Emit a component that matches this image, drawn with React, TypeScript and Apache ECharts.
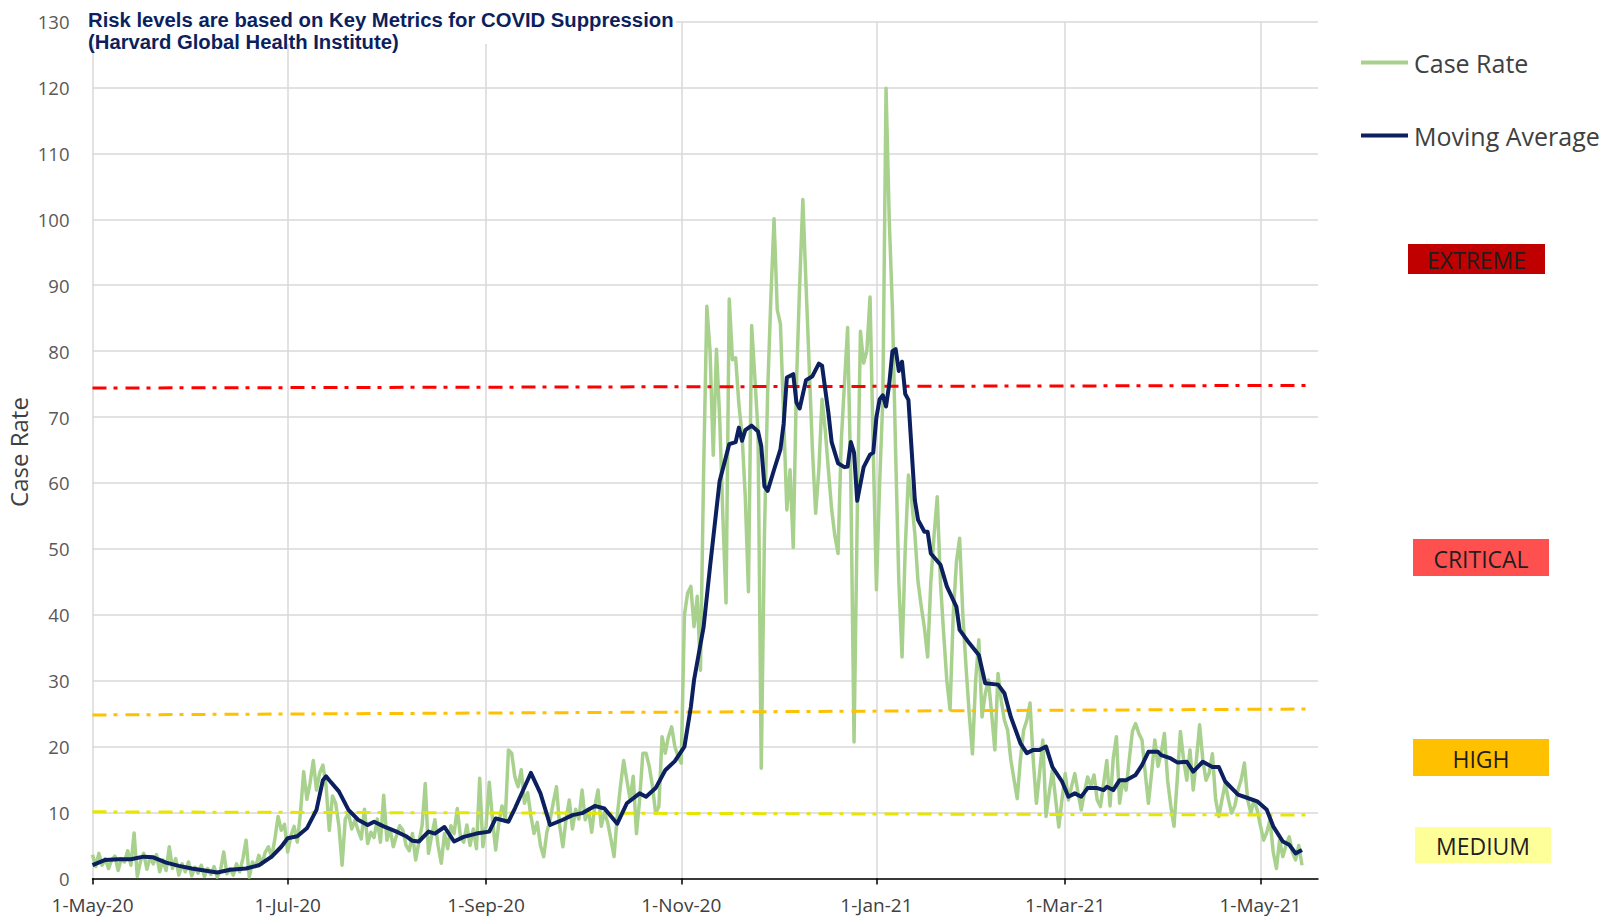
import React, { useEffect, useRef } from "react";
import * as echarts from "echarts";

// x values are days since 1-May-2020
const tickDays = [0, 61, 123, 184, 245, 304, 365];
const tickLabels = ["1-May-20", "1-Jul-20", "1-Sep-20", "1-Nov-20", "1-Jan-21", "1-Mar-21", "1-May-21"];

const caseRate: [number, number][] = [
  [0,3.6],[1,1.8],[2,3.8],[3,2.0],[4,3.0],[5,1.5],[6,2.8],[7,3.4],[8,1.2],[9,3.0],[10,2.5],[11,4.2],[12,2.0],[13,6.9],[14,0.3],
  [15,2.6],[16,3.8],[17,1.4],[18,3.2],[19,2.2],[20,3.6],[21,1.0],[22,2.8],[23,1.2],[24,4.8],[25,1.5],[26,3.0],[27,0.5],[28,2.2],
  [29,1.0],[30,2.5],[31,0.4],[32,1.7],[33,0.8],[34,2.0],[35,0.3],[36,1.5],[37,0.6],[38,1.8],[39,0.2],[40,1.2],[41,4.0],[42,0.7],
  [43,1.5],[44,0.5],[45,2.2],[46,1.0],[47,3.0],[48,5.8],[49,0.2],[50,2.5],[51,1.8],[52,3.5],[53,2.2],[54,4.0],[55,4.8],[56,3.2],
  [57,6.0],[58,9.4],[59,7.3],[60,8.2],[61,4.0],[62,6.5],[63,7.9],[64,5.5],[65,10.0],[66,16.2],[67,12.0],[68,14.5],[69,17.9],
  [70,13.4],[71,16.0],[72,17.2],[73,14.0],[74,7.3],[75,12.5],[76,11.4],[77,8.0],[78,2.0],[79,9.0],[80,9.9],[81,7.5],[82,8.8],
  [83,7.3],[84,6.0],[85,10.5],[86,5.3],[87,7.0],[88,6.2],[89,9.0],[90,5.5],[91,12.6],[92,5.8],[93,7.5],[94,4.8],[95,6.5],[96,8.0],
  [97,7.3],[98,5.0],[99,4.2],[100,6.8],[101,2.8],[102,5.5],[103,8.0],[104,14.4],[105,3.8],[106,6.5],[107,8.9],[108,5.0],[109,2.3],
  [110,6.8],[111,4.5],[112,8.0],[113,6.8],[114,10.6],[115,6.3],[116,5.5],[117,8.1],[118,5.0],[119,7.5],[120,4.5],[121,15.2],
  [122,4.8],[123,8.0],[124,14.6],[125,9.0],[126,4.3],[127,8.5],[128,11.0],[129,9.0],[130,19.5],[131,19.0],[132,15.4],[133,13.9],
  [134,16.5],[135,11.4],[136,13.0],[137,9.5],[138,6.8],[139,8.5],[140,5.0],[141,3.3],[142,7.0],[143,8.9],[144,11.5],[145,13.9],
  [146,8.0],[147,4.8],[148,9.0],[149,11.9],[150,7.5],[151,10.5],[152,9.0],[153,13.4],[154,8.9],[155,10.5],[156,7.0],[157,11.0],
  [158,13.4],[159,7.9],[160,10.0],[161,8.5],[162,6.0],[163,3.3],[164,9.5],[165,14.0],[166,17.9],[167,14.9],[168,12.0],[169,15.5],
  [170,6.8],[171,12.0],[172,19.0],[173,19.0],[174,17.0],[175,14.0],[176,9.9],[177,10.9],[178,21.5],[179,19.0],[180,21.5],
  [181,23.0],[182,20.0],[183,18.5],[184,17.5],[185,40.0],[186,43.3],[187,44.3],[188,38.2],[189,42.8],[190,31.6],[191,62.0],
  [192,86.8],[193,80.0],[194,64.2],[195,80.3],[196,70.0],[197,55.0],[198,41.8],[199,87.9],[200,78.7],[201,79.0],[202,72.0],
  [203,67.3],[204,58.0],[205,43.5],[206,83.9],[207,76.0],[208,67.8],[209,16.7],[210,52.1],[211,73.8],[212,88.0],[213,100.1],
  [214,86.3],[215,84.1],[216,70.0],[217,55.9],[218,62.0],[219,50.2],[220,75.0],[221,90.0],[222,103.0],[223,90.0],[224,77.6],
  [225,65.0],[226,55.4],[227,62.0],[228,72.7],[229,68.0],[230,61.9],[231,56.0],[232,52.0],[233,49.3],[234,66.3],[235,75.0],
  [236,83.6],[237,60.0],[238,20.7],[239,55.0],[240,83.0],[241,78.2],[242,80.0],[243,88.2],[244,65.0],[245,43.8],[246,60.0],
  [247,72.7],[248,119.9],[249,100.0],[250,86.3],[251,64.6],[252,45.0],[253,33.6],[254,50.0],[255,61.2],[256,57.4],[257,52.3],
  [258,45.0],[259,41.3],[260,38.0],[261,33.6],[262,45.0],[263,52.0],[264,57.9],[265,45.0],[266,37.2],[267,30.0],[268,25.6],
  [269,40.0],[270,48.0],[271,51.6],[272,40.0],[273,32.1],[274,25.0],[275,18.9],[276,30.0],[277,36.2],[278,24.5],[279,28.0],
  [280,30.1],[281,25.0],[282,19.5],[283,31.1],[284,27.0],[285,24.0],[286,22.5],[287,18.0],[288,15.0],[289,12.1],[290,18.0],
  [291,22.5],[292,24.0],[293,26.6],[294,18.0],[295,11.4],[296,16.0],[297,21.0],[298,9.4],[299,13.0],[300,16.4],[301,12.0],
  [302,7.8],[303,12.0],[304,15.9],[305,11.9],[306,14.0],[307,15.9],[308,13.0],[309,10.4],[310,13.0],[311,15.4],[312,14.0],
  [313,15.7],[314,11.9],[315,10.9],[316,14.4],[317,17.9],[318,11.0],[319,18.2],[320,21.5],[321,11.4],[322,15.0],[323,13.4],
  [324,18.0],[325,22.3],[326,23.5],[327,22.0],[328,21.0],[329,16.0],[330,11.4],[331,16.0],[332,21.0],[333,17.0],[334,19.0],
  [335,22.0],[336,14.9],[337,11.0],[338,7.9],[339,15.0],[340,22.3],[341,18.0],[342,14.9],[343,19.5],[344,13.4],[345,18.0],
  [346,23.3],[347,18.0],[348,14.9],[349,16.0],[350,18.9],[351,12.0],[352,9.4],[353,12.0],[354,14.4],[355,12.0],[356,9.9],
  [357,11.0],[358,13.4],[359,15.0],[360,17.5],[361,12.0],[362,9.9],[363,11.9],[364,10.4],[365,8.0],[366,5.8],[367,7.0],
  [368,8.9],[369,4.0],[370,1.5],[371,5.8],[372,3.3],[373,5.0],[374,6.3],[375,4.0],[376,2.8],[377,5.0],[378,2.0]
];

const movingAverage: [number, number][] = [
  [0,2.0],[4,2.8],[8,2.9],[12,2.9],[16,3.3],[19,3.2],[23,2.4],[27,1.9],[31,1.5],[35,1.2],[39,0.9],[43,1.3],[48,1.5],[52,2.0],
  [56,3.3],[59,4.8],[61,6.1],[64,6.4],[67,7.6],[70,10.4],[72,14.9],[73,15.5],[74,14.9],[77,13.2],[80,10.4],[83,8.9],[86,8.1],
  [88,8.6],[91,7.9],[95,7.1],[98,6.4],[100,5.7],[102,5.6],[105,7.1],[107,6.8],[110,7.8],[113,5.6],[116,6.3],[120,6.8],[124,7.1],
  [126,9.1],[130,8.6],[132,10.6],[137,16.0],[140,12.9],[143,8.1],[147,8.9],[150,9.6],[153,9.9],[157,11.0],[160,10.6],[164,8.3],
  [167,11.4],[171,12.9],[173,12.4],[176,13.7],[179,16.4],[182,17.8],[185,20.0],[187,26.0],[188,30.1],[191,38.2],[193,47.3],
  [195,56.0],[196,60.3],[198,64.0],[199,65.9],[201,66.2],[202,68.4],[203,66.4],[204,68.0],[206,68.7],[208,67.8],[209,65.6],
  [210,59.5],[211,58.8],[213,62.0],[215,65.1],[216,69.0],[217,76.0],[219,76.5],[220,72.2],[221,71.3],[223,75.6],[225,76.2],
  [227,78.1],[228,77.8],[230,70.6],[231,66.2],[233,63.0],[235,62.4],[236,62.5],[237,66.2],[238,64.6],[239,57.3],[241,62.4],
  [243,64.3],[244,64.6],[245,70.0],[246,72.7],[247,73.3],[248,71.6],[249,75.0],[250,80.0],[251,80.3],[252,77.0],[253,78.4],
  [254,73.5],[255,72.6],[256,65.0],[257,57.4],[258,54.4],[260,52.6],[261,52.6],[262,49.3],[265,47.6],[267,44.3],[270,41.2],
  [271,37.7],[274,35.7],[277,33.9],[279,29.6],[283,29.4],[285,28.1],[287,24.5],[290,20.5],[292,19.0],[294,19.5],[296,19.5],
  [298,20.0],[300,16.9],[303,14.7],[305,12.4],[307,12.9],[309,12.4],[311,13.7],[314,13.7],[316,13.4],[317,13.9],[319,13.4],
  [321,14.9],[323,14.9],[326,15.7],[328,17.2],[330,19.2],[333,19.2],[334,18.7],[337,18.2],[339,17.6],[342,17.7],[344,16.2],
  [347,17.7],[350,16.9],[352,16.9],[354,14.7],[358,12.7],[361,12.2],[364,11.7],[367,10.4],[369,7.9],[372,5.6],[374,5.1],
  [376,3.8],[378,4.3]
];

// threshold lines (as drawn, slightly slanted)
const extremeLine: [number, number][] = [[0, 74.4], [381, 74.8]];
const criticalLine: [number, number][] = [[0, 24.8], [380, 25.7]];
const highLine: [number, number][] = [[0, 10.1], [381, 9.6]];

const titleLines = ["Risk levels are based on Key Metrics for COVID Suppression", "(Harvard Global Health Institute)"];
const yAxisTitle = "Case Rate";
const riskLabels = ["EXTREME", "CRITICAL", "HIGH", "MEDIUM"];
const riskColors = ["#c00000", "#ff5050", "#ffc000", "#ffff99"];

const FONT = "'Open Sans', 'Noto Sans', sans-serif";
const TITLE_FONT = "'Liberation Sans', Arial, sans-serif";
const GREEN = "#a9d18e";
const NAVY = "#0c1f5e";

export default function App() {
  const ref = useRef<HTMLDivElement>(null);
  useEffect(() => {
    const chart = echarts.init(ref.current!, null, { renderer: "svg" });
    const dash = [14, 7, 4, 8];
    const boxes = [
      { x: 1408, y: 244, w: 137, h: 30 },
      { x: 1413, y: 539, w: 136, h: 37 },
      { x: 1413, y: 739, w: 136, h: 37 },
      { x: 1415, y: 827, w: 136, h: 36 },
    ];
    const graphic: any[] = [
      { type: "rect", shape: { x: 86, y: 0, width: 590, height: 44 }, style: { fill: "#fff" }, z: 10 },
      {
        type: "text", x: 88, y: 20.5, z: 11, scaleX: 1.04,
        style: { text: titleLines[0], font: `bold 19.5px ${TITLE_FONT}`, verticalAlign: "middle", fill: NAVY },
      },
      {
        type: "text", x: 88, y: 42.5, z: 11, scaleX: 1.04,
        style: { text: titleLines[1], font: `bold 19.5px ${TITLE_FONT}`, verticalAlign: "middle", fill: NAVY },
      },
      {
        type: "text", x: 18.5, y: 452, rotation: Math.PI / 2,
        style: { text: yAxisTitle, font: `24px ${FONT}`, fill: "#404040", align: "center", verticalAlign: "middle" },
      },
    ];
    riskLabels.forEach((lab, i) => {
      const b = boxes[i];
      graphic.push({
        type: "group",
        x: b.x,
        y: b.y,
        children: [
          { type: "rect", shape: { x: 0, y: 0, width: b.w, height: b.h }, style: { fill: riskColors[i] } },
          {
            type: "text",
            x: b.w / 2,
            y: b.h / 2 + 1,
            style: { text: lab, font: `23px ${FONT}`, fill: "#1e1e1e", align: "center", verticalAlign: "middle" },
          },
        ],
      });
    });

    chart.setOption({
      animation: false,
      textStyle: { fontFamily: FONT },
      grid: { left: 92.5, right: 293, top: 21.6, bottom: 41.6, containLabel: false, outerBoundsMode: "none" },
      legend: {
        data: ["Case Rate", "Moving Average"],
        orient: "vertical",
        left: 1361,
        top: 50,
        itemWidth: 47,
        itemHeight: 4,
        itemGap: 48,
        icon: "rect",
        padding: 0,
        textStyle: { fontSize: 25, color: "#404040", fontFamily: FONT, padding: [0, 0, 0, 1] },
      },
      xAxis: {
        type: "value",
        min: 0,
        max: 383,
        axisLine: { show: true, lineStyle: { color: "#000", width: 1.5 } },
        axisTick: { show: true, customValues: tickDays, length: 6, lineStyle: { color: "#000", width: 1.5 } },
        axisLabel: {
          customValues: tickDays,
          formatter: (v: number) => tickLabels[tickDays.indexOf(Math.round(v))] ?? "",
          fontSize: 19,
          color: "#404040",
          margin: 17,
        },
        splitLine: { show: true, lineStyle: { color: "#d9d9d9", width: 1.5 } },
      },
      yAxis: {
        type: "value",
        min: 0,
        max: 130,
        interval: 10,
        axisLine: { show: false },
        axisTick: { show: false },
        axisLabel: { fontSize: 18.5, color: "#595959", margin: 23 },
        splitLine: { show: true, lineStyle: { color: "#d9d9d9", width: 1.5 } },
      },
      graphic,
      series: [
        {
          name: "Case Rate",
          type: "line",
          data: caseRate,
          color: GREEN,
          showSymbol: false,
          lineStyle: { color: GREEN, width: 3.5, join: "round" },
          z: 2,
        },
        {
          name: "Extreme threshold",
          type: "line",
          data: extremeLine,
          showSymbol: false,
          lineStyle: { color: "#ff0000", width: 3, type: dash },
          z: 3,
        },
        {
          name: "Critical threshold",
          type: "line",
          data: criticalLine,
          showSymbol: false,
          lineStyle: { color: "#ffc000", width: 3, type: dash },
          z: 3,
        },
        {
          name: "High threshold",
          type: "line",
          data: highLine,
          showSymbol: false,
          lineStyle: { color: "#e6e600", width: 3, type: dash },
          z: 3,
        },
        {
          name: "Moving Average",
          type: "line",
          data: movingAverage,
          color: NAVY,
          showSymbol: false,
          lineStyle: { color: NAVY, width: 4, join: "round" },
          z: 4,
        },
      ],
    });
    return () => chart.dispose();
  }, []);
  return <div ref={ref} style={{ position: "absolute", left: 0, top: 0, width: 1611, height: 920 }} />;
}
